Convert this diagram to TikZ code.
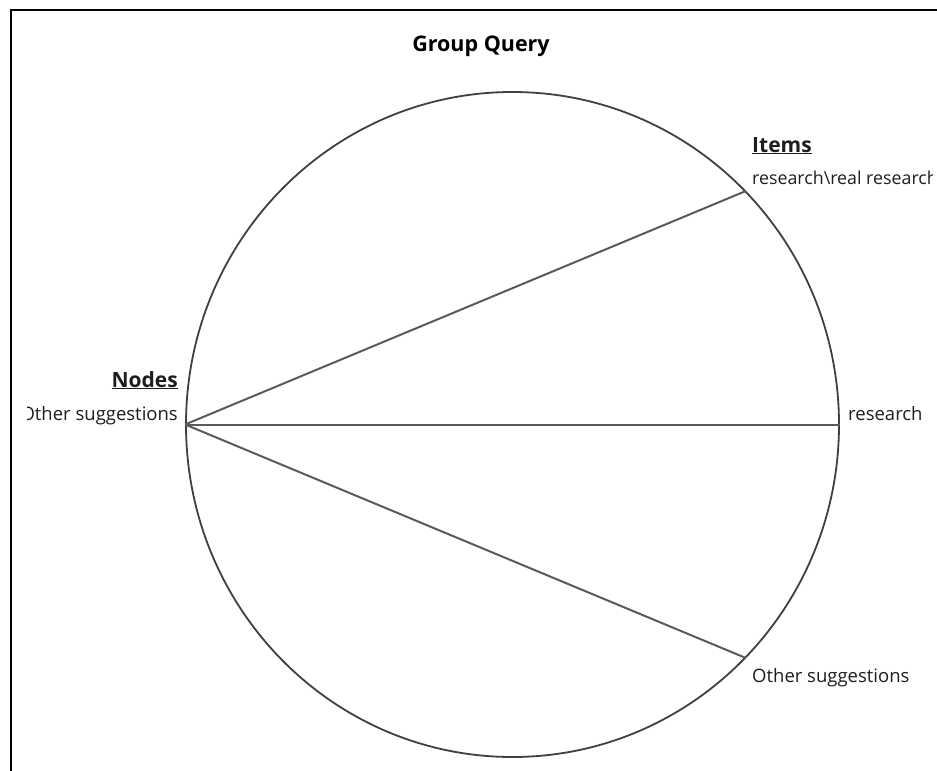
\documentclass[tikz,border=0pt]{standalone}
\usepackage{fontspec}
\setmainfont{Open Sans}
\usetikzlibrary{shapes.geometric}
\definecolor{ink}{HTML}{1E1E1E}
\definecolor{ring}{HTML}{404040}
\definecolor{spoke}{HTML}{5A5A5A}
\begin{document}
\begin{tikzpicture}[x=1pt,y=-1pt,
  lbl/.style={inner sep=0pt, text=ink, font=\fontsize{18.5}{22}\selectfont},
  hdr/.style={inner sep=0pt, text=ink, font=\bfseries\fontsize{21}{25}\selectfont},
  spokeline/.style={draw=spoke, line width=2pt}]
\useasboundingbox (0,0) rectangle (937,771);
\fill[white] (0,0) rectangle (937,771);
\draw[line width=2pt, black] (11,771) -- (11,10) -- (937,10);
\node[inner sep=0pt, text=black, font=\bfseries\fontsize{21.5}{25}\selectfont, anchor=base] (title) at (481,51) {Group Query};
\node[draw=ring, line width=1.8pt, ellipse, inner sep=0pt, minimum width=653pt, minimum height=665pt] (circ) at (512.5,424.5) {};
\coordinate (hub) at (circ.west);
\coordinate (up) at (circ.45.9);
\coordinate (mid) at (circ.east);
\coordinate (low) at (circ.-45.9);
\draw[spokeline] (hub) -- (up);
\draw[spokeline] (hub) -- (mid);
\draw[spokeline] (hub) -- (low);
\begin{scope}
\clip (27,0) rectangle (932,771);
\node[hdr, anchor=base east] (nodes) at (178,387) {\underline{Nodes}};
\node[lbl, anchor=base east] (nodesval) at (178,420) {Other suggestions};
\node[hdr, anchor=base west] (items) at (752,152) {\underline{Items}};
\node[lbl, anchor=base west, font=\fontsize{17.8}{21}\selectfont] (itemsval) at (752,184) {research\textbackslash real research};
\node[lbl, anchor=base west] (midval) at (848,420) {research};
\node[lbl, anchor=base west] (lowval) at (752,682) {Other suggestions};
\end{scope}
\end{tikzpicture}
\end{document}
